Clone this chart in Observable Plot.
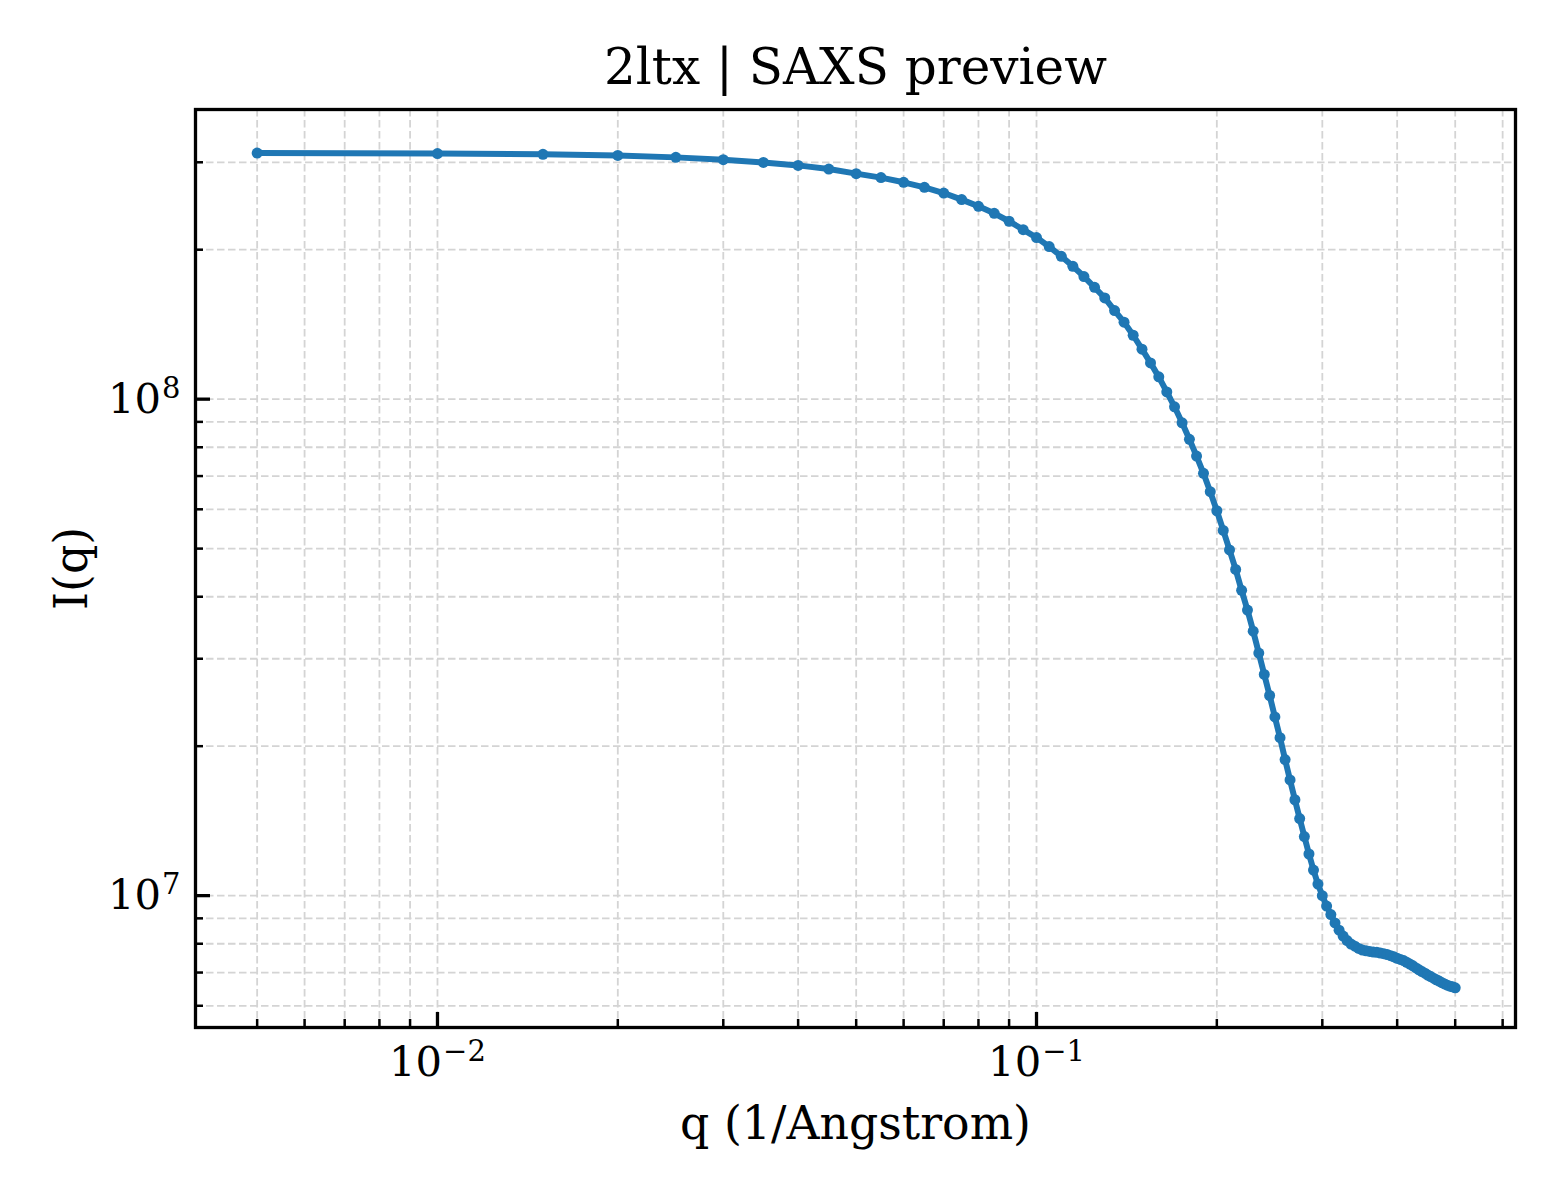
<!DOCTYPE html>
<html>
<head>
<meta charset="utf-8">
<script src="https://cdn.jsdelivr.net/npm/d3@7"></script>
<script src="https://cdn.jsdelivr.net/npm/@observablehq/plot@0.6"></script>
<style>
  body { margin: 0; background: #fff; }
  #chart { width: 1560px; height: 1200px; }
</style>
</head>
<body>
<div id="chart"></div>
<script>
// ---- data ----
const titleText = "2ltx | SAXS preview";
const xLabel = "q (1/Angstrom)";
const yLabel = "I(q)";

const qValues = [
  0.005, 0.010, 0.015, 0.020, 0.025, 0.030, 0.035, 0.040, 0.045, 0.050,
  0.055, 0.060, 0.065, 0.070, 0.075, 0.080, 0.085, 0.090, 0.095, 0.100,
  0.105, 0.110, 0.115, 0.120, 0.125, 0.130, 0.135, 0.140, 0.145, 0.150,
  0.155, 0.160, 0.165, 0.170, 0.175, 0.180, 0.185, 0.190, 0.195, 0.200,
  0.205, 0.210, 0.215, 0.220, 0.225, 0.230, 0.235, 0.240, 0.245, 0.250,
  0.255, 0.260, 0.265, 0.270, 0.275, 0.280, 0.285, 0.290, 0.295, 0.300,
  0.305, 0.310, 0.315, 0.320, 0.325, 0.330, 0.335, 0.340, 0.345, 0.350,
  0.355, 0.360, 0.365, 0.370, 0.375, 0.380, 0.385, 0.390, 0.395, 0.400,
  0.405, 0.410, 0.415, 0.420, 0.425, 0.430, 0.435, 0.440, 0.445, 0.450,
  0.455, 0.460, 0.465, 0.470, 0.475, 0.480, 0.485, 0.490, 0.495, 0.500
];

const intensity = [
  3.131e8, 3.123e8, 3.113e8, 3.097e8, 3.069e8, 3.036e8, 2.998e8, 2.957e8, 2.907e8, 2.846e8,
  2.794e8, 2.734e8, 2.671e8, 2.601e8, 2.523e8, 2.446e8, 2.368e8, 2.282e8, 2.195e8, 2.116e8,
  2.029e8, 1.940e8, 1.852e8, 1.766e8, 1.680e8, 1.599e8, 1.508e8, 1.429e8, 1.345e8, 1.261e8,
  1.183e8, 1.109e8, 1.034e8, 9.65e7, 8.96e7, 8.30e7, 7.68e7, 7.09e7, 6.51e7, 5.96e7,
  5.44e7, 4.97e7, 4.54e7, 4.12e7, 3.76e7, 3.41e7, 3.08e7, 2.79e7, 2.53e7, 2.29e7,
  2.08e7, 1.88e7, 1.71e7, 1.56e7, 1.43e7, 1.315e7, 1.213e7, 1.126e7, 1.055e7, 1.000e7,
  9.53e6, 9.16e6, 8.81e6, 8.52e6, 8.29e6, 8.12e6, 7.99e6, 7.91e6, 7.83e6, 7.77e6,
  7.74e6, 7.72e6, 7.70e6, 7.69e6, 7.66e6, 7.64e6, 7.61e6, 7.57e6, 7.53e6, 7.48e6,
  7.44e6, 7.40e6, 7.34e6, 7.28e6, 7.22e6, 7.15e6, 7.09e6, 7.03e6, 6.98e6, 6.92e6,
  6.87e6, 6.82e6, 6.77e6, 6.73e6, 6.68e6, 6.64e6, 6.60e6, 6.57e6, 6.55e6, 6.52e6
];

const xMajorTicks = [0.01, 0.1];
const xMinorTicks = [0.005, 0.006, 0.007, 0.008, 0.009,
                     0.02, 0.03, 0.04, 0.05, 0.06, 0.07, 0.08, 0.09,
                     0.2, 0.3, 0.4, 0.5, 0.6];
const yMajorTicks = [1e7, 1e8];
const yMinorTicks = [6e6, 7e6, 8e6, 9e6,
                     2e7, 3e7, 4e7, 5e7, 6e7, 7e7, 8e7, 9e7,
                     2e8, 3e8];

const xDomain = [0.003945, 0.6304];
const yDomain = [5.425e6, 3.832e8];

// ---- build ----
const data = qValues.map((q, i) => ({q, I: intensity[i]}));

const W = 1560, H = 1200;
const mL = 195, mR = 45, mT = 109, mB = 173;
const innerW = W - mL - mR, innerH = H - mT - mB;

const lineColor = "#1f77b4";
const gridStyle = {stroke: "#d4d4d4", strokeWidth: 1.8, strokeDasharray: "7.5,3.5"};
const fmtPow = d => "10^" + String(Math.round(Math.log10(d))).replace("-", "\u2212");

const tickFont = 41.7, labelFont = 45.8, titleFont = 50;

const chart = Plot.plot({
  width: W,
  height: H,
  marginLeft: mL,
  marginRight: mR,
  marginTop: mT,
  marginBottom: mB,
  style: {fontFamily: "'DejaVu Serif', serif", fontSize: "40px", background: "#fff", color: "#000"},
  x: {type: "log", domain: xDomain},
  y: {type: "log", domain: yDomain},
  marks: [
    // grid
    Plot.ruleX([...xMajorTicks, ...xMinorTicks], {x: d => d, ...gridStyle}),
    Plot.ruleY([...yMajorTicks, ...yMinorTicks], {y: d => d, ...gridStyle}),
    // data
    Plot.line(data, {x: "q", y: "I", stroke: lineColor, strokeWidth: 6, curve: "linear"}),
    Plot.dot(data, {x: "q", y: "I", r: 5.5, fill: lineColor, stroke: "none"}),
    // inward ticks
    Plot.tickX(xMajorTicks, {x: d => d, insetTop: innerH - 15, stroke: "#000", strokeWidth: 3.3}),
    Plot.tickX(xMinorTicks, {x: d => d, insetTop: innerH - 8, stroke: "#000", strokeWidth: 2.5}),
    Plot.tickY(yMajorTicks, {y: d => d, insetRight: innerW - 15, stroke: "#000", strokeWidth: 3.3}),
    Plot.tickY(yMinorTicks, {y: d => d, insetRight: innerW - 8, stroke: "#000", strokeWidth: 2.5}),
    // axes (labels only)
    Plot.axisX(xMajorTicks, {tickSize: 0, tickPadding: 18.4, tickFormat: fmtPow, label: null, fontSize: tickFont}),
    Plot.axisY(yMajorTicks, {tickSize: 0, tickPadding: 15, tickFormat: fmtPow, label: null, fontSize: tickFont}),
    // axis titles + chart title
    Plot.text([xLabel], {frameAnchor: "bottom", dy: 111, lineAnchor: "bottom", textAnchor: "middle", fontSize: labelFont, text: d => d}),
    Plot.text([yLabel], {frameAnchor: "left", dx: -109, rotate: -90, lineAnchor: "bottom", textAnchor: "middle", fontSize: labelFont, text: d => d}),
    Plot.text([titleText], {frameAnchor: "top", dy: -26, lineAnchor: "bottom", textAnchor: "middle", fontSize: titleFont, text: d => d}),
    Plot.frame({stroke: "#000", strokeWidth: 3.3})
  ]
});

document.getElementById("chart").appendChild(chart);

// turn "10^n" tick labels into base + superscript
d3.select(chart).selectAll("text").each(function () {
  const t = this.textContent;
  if (!/^10\^/.test(t)) return;
  const sel = d3.select(this);
  const exp = t.split("^")[1];
  sel.text(null);
  sel.append("tspan").text("10");
  sel.append("tspan").attr("font-size", "29px").attr("dy", "-15px").attr("dx", "1px").text(exp);
});
</script>
</body>
</html>
